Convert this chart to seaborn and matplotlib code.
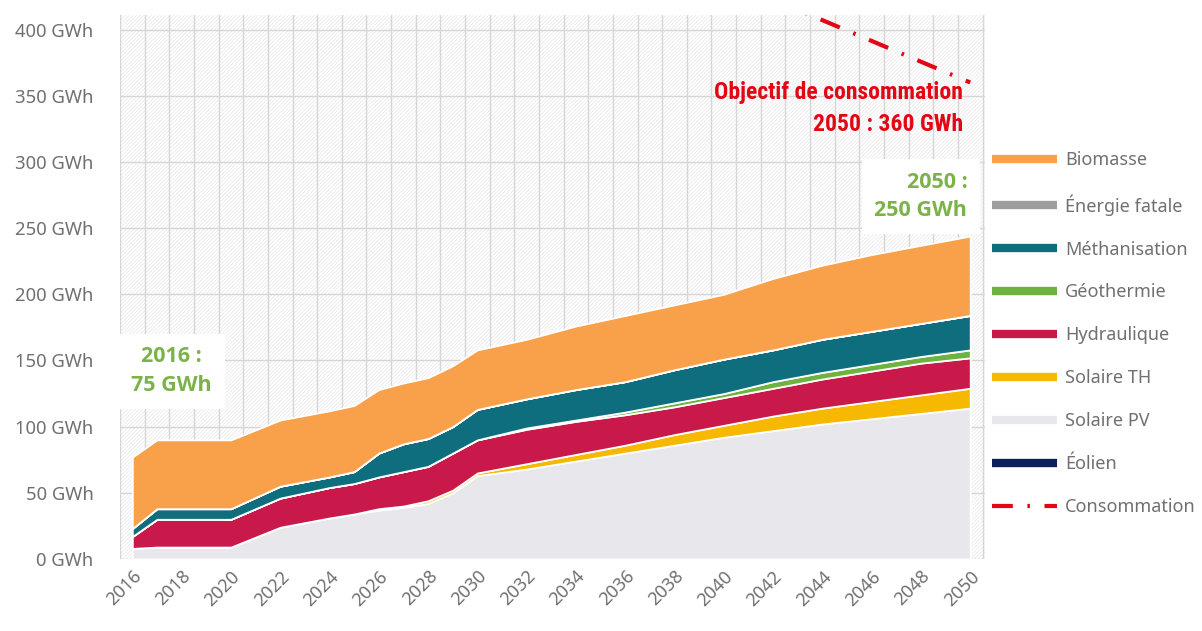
import numpy as np
import pandas as pd
import matplotlib
matplotlib.use('Agg')
import matplotlib.pyplot as plt
from matplotlib.lines import Line2D
from matplotlib.ticker import MultipleLocator
import seaborn as sns

# Values (GWh per layer, stacked bottom -> top)
years = [2016, 2017, 2020, 2022, 2024, 2025, 2026, 2027, 2028, 2029, 2030,
         2032, 2034, 2036, 2038, 2040, 2042, 2044, 2046, 2048, 2050]
eolien = [0, 0, 0, 0, 0, 0, 0, 0, 0, 0, 0, 0, 0, 0, 0, 0, 0, 0, 0, 0, 0]
solaire_pv = [8, 9, 9, 24, 31, 34, 37, 39, 42, 50, 63, 68, 74, 80, 86, 92, 97, 102, 106, 110, 114]
solaire_th = [0, 0, 0, 0, 0, 0, 1, 1, 2, 2, 2, 4, 5, 6, 8, 9, 11, 12, 13, 14, 15]
hydraulique = [9, 21, 21, 22, 23, 23, 24, 26, 26, 28, 25, 26, 25, 23, 21, 21, 21, 22, 23, 24, 23]
geothermie = [0, 0, 0, 0, 0, 0, 0, 0, 0, 0, 0, 1, 1, 2, 3, 3, 5, 5, 5, 5, 6]
methanisation = [6, 8, 8, 9, 8, 9, 18, 21, 21, 20, 23, 22, 23, 23, 25, 26, 24, 25, 25, 25, 26]
energie_fatale = [0, 0, 0, 0, 0, 0, 0, 0, 0, 0, 0, 0, 0, 0, 0, 0, 0, 0, 0, 0, 0]
biomasse = [54, 52, 52, 50, 50, 50, 48, 46, 46, 46, 45, 45, 48, 50, 49, 49, 54, 56, 58, 59, 60]

conso_years = [2016, 2050]
conso_values = [627, 360]

labels = ['Éolien', 'Solaire PV', 'Solaire TH', 'Hydraulique', 'Géothermie',
          'Méthanisation', 'Énergie fatale', 'Biomasse']
colors = ['#0b1f5b', '#e8e8ec', '#f6b800', '#c9184a', '#6db33f',
          '#0f6e7d', '#9e9e9e', '#f9a04b']
conso_color = '#e30613'
green_txt = '#7cb24a'
text_gray = '#707070'

sns.set_theme(style='white')
plt.rcParams['font.family'] = ['Noto Sans', 'DejaVu Sans']
plt.rcParams['hatch.color'] = '#ebebeb'
plt.rcParams['hatch.linewidth'] = 0.6

fig = plt.figure(figsize=(12.02, 6.31), dpi=100)
ax = fig.add_axes([120 / 1202, 1 - 559 / 631, 865 / 1202, 544 / 631])

# hatched background
ax.patch.set_facecolor('white')
ax.patch.set_hatch('/' * 9)
ax.patch.set_edgecolor('#ebebeb')

ax.stackplot(years, eolien, solaire_pv, solaire_th, hydraulique, geothermie,
             methanisation, energie_fatale, biomasse,
             colors=colors, edgecolor='white', linewidth=1.3, zorder=3)

df_conso = pd.DataFrame({'year': conso_years, 'value': conso_values})
sns.lineplot(data=df_conso, x='year', y='value', ax=ax, color=conso_color,
             linewidth=3, linestyle=(0, (5, 3.5, 0.6, 3.5)), zorder=4, legend=False)
if ax.get_legend() is not None:
    ax.get_legend().remove()

ax.set_xlim(2015.5, 2050.6)
ax.set_ylim(0, 411)
ax.set_xticks(range(2016, 2051, 2))
ax.xaxis.set_minor_locator(MultipleLocator(1, offset=0.5))
ax.set_yticks(range(0, 401, 50))
ax.set_yticklabels([f'{v} GWh' for v in range(0, 401, 50)])
ax.grid(axis='y', which='major', color='#d6d6d6', linewidth=1, zorder=1)
ax.grid(axis='x', which='minor', color='#d6d6d6', linewidth=1, zorder=1)
ax.grid(axis='x', which='major', visible=False)
ax.set_axisbelow(True)
for s in ax.spines.values():
    s.set_visible(False)
ax.tick_params(axis='y', length=0, pad=19, labelsize=13.3, labelcolor=text_gray)
ax.tick_params(axis='x', which='both', length=0, pad=6, labelsize=13, labelcolor=text_gray)
plt.setp(ax.get_xticklabels(), rotation=45, ha='right', rotation_mode='anchor')
ax.set_xlabel('')
ax.set_ylabel('')

# annotations
ax.text(2049.7, 340, 'Objectif de consommation\n2050 : 360 GWh', color=conso_color,
        fontsize=17, fontweight='bold', ha='right', va='center',
        multialignment='right', linespacing=1.5, zorder=6,
        family=['Roboto Condensed', 'Roboto', 'DejaVu Sans'])
ax.text(2017.6, 142, '2016 :\n75 GWh', color=green_txt, fontsize=15.5, fontweight='bold',
        ha='center', va='center', linespacing=1.45, zorder=6,
        family=['Open Sans', 'DejaVu Sans'],
        bbox=dict(boxstyle='square,pad=0.6', fc='white', ec='none'))
ax.text(2048.0, 274, '2050 :\n250 GWh', color=green_txt, fontsize=15.5, fontweight='bold',
        ha='center', va='center', multialignment='right', linespacing=1.45, zorder=6,
        family=['Open Sans', 'DejaVu Sans'],
        bbox=dict(boxstyle='square,pad=0.6', fc='white', ec='none'), clip_on=False)

# legend
handles = [Line2D([], [], color=c, linewidth=6, solid_capstyle='butt')
           for c in colors[::-1]]
handles.append(Line2D([], [], color=conso_color, linewidth=3,
                      linestyle=(0, (5, 3.5, 0.6, 3.5))))
leg_labels = labels[::-1] + ['Consommation']
fig.legend(handles, leg_labels, loc='upper left', bbox_to_anchor=(985 / 1202, 1 - 144 / 631),
           frameon=False, fontsize=13, labelcolor=text_gray, handlelength=3.6,
           handletextpad=0.45, labelspacing=1.38, borderaxespad=0)

fig.savefig('out.png', dpi=100)
